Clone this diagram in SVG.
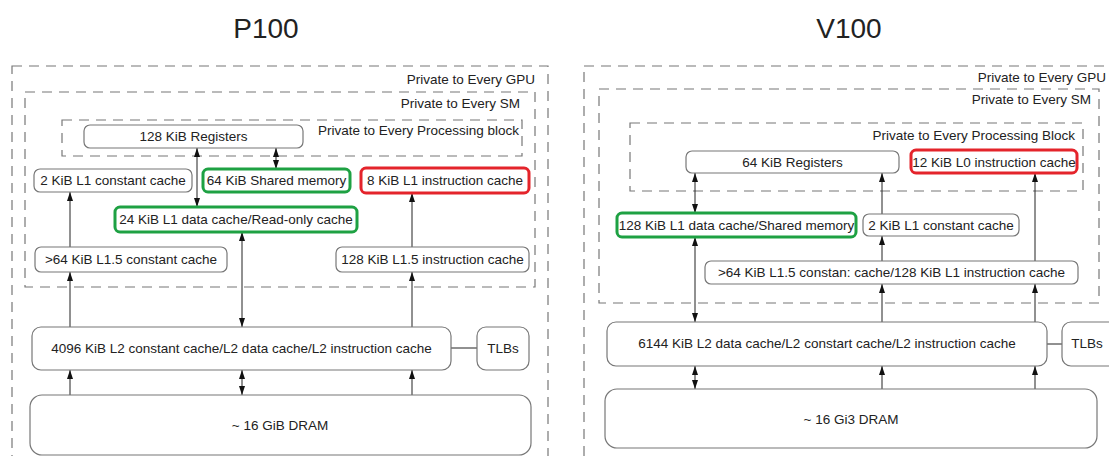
<svg xmlns="http://www.w3.org/2000/svg" width="1109" height="456" viewBox="0 0 1109 456">
<style>
text{font-family:"Liberation Sans",Arial,sans-serif;font-size:13.5px;fill:#222}
.t{text-anchor:middle}
.e{text-anchor:end}
.title{font-size:28px;text-anchor:middle;fill:#222}
.dash{fill:none;stroke:#777;stroke-width:1.2;stroke-dasharray:10 7}
.box{fill:#fff;stroke:#777;stroke-width:1.2}
.green{fill:#fff;stroke:#1ea143;stroke-width:3}
.red{fill:#fff;stroke:#e4242b;stroke-width:3}
.c path{fill:none;stroke:#222;stroke-width:1}
</style>
<defs>
<marker id="ah" viewBox="0 0 9 6" refX="9" refY="3" markerWidth="9" markerHeight="6" markerUnits="userSpaceOnUse" orient="auto-start-reverse">
<path d="M0,0 L9,3 L0,6 z" fill="#111"/>
</marker>
</defs>
<rect width="1109" height="456" fill="#fff"/>

<text class="title" x="266" y="38">P100</text>
<text class="title" x="849" y="38">V100</text>

<!-- P100 regions -->
<g id="p100-gpu"><rect class="dash" x="12" y="66" width="536" height="420"/><text class="e" x="535" y="84">Private to Every GPU</text></g>
<g id="p100-sm"><rect class="dash" x="25" y="92" width="510" height="195"/><text class="e" x="520" y="108">Private to Every SM</text></g>
<g id="p100-pb"><rect class="dash" x="62" y="120" width="460" height="36"/><text class="e" x="519" y="135">Private to Every Processing block</text></g>

<!-- V100 regions -->
<g id="v100-gpu"><rect class="dash" x="584" y="66" width="540" height="420"/><text class="e" x="1106" y="82">Private to Every GPU</text></g>
<g id="v100-sm"><rect class="dash" x="599" y="89" width="500" height="214"/><text class="e" x="1091" y="104">Private to Every SM</text></g>
<g id="v100-pb"><rect class="dash" x="630" y="123" width="453" height="68"/><text class="e" x="1075" y="140">Private to Every Processing Block</text></g>

<!-- connectors -->
<g id="connectors" class="c">
<path d="M197,148 V207" marker-start="url(#ah)" marker-end="url(#ah)"/>
<path d="M276,148 V169" marker-start="url(#ah)" marker-end="url(#ah)"/>
<path d="M242,232 V327" marker-start="url(#ah)" marker-end="url(#ah)"/>
<path d="M242,370 V395" marker-start="url(#ah)" marker-end="url(#ah)"/>
<path d="M70,247 V192" marker-end="url(#ah)"/>
<path d="M70,327 V272" marker-end="url(#ah)"/>
<path d="M70,395 V370" marker-end="url(#ah)"/>
<path d="M412,247 V193" marker-end="url(#ah)"/>
<path d="M412,327 V272" marker-end="url(#ah)"/>
<path d="M412,395 V370" marker-end="url(#ah)"/>
<path d="M451,348 H477"/>

<path d="M695,173 V213" marker-start="url(#ah)" marker-end="url(#ah)"/>
<path d="M695,237 V322" marker-start="url(#ah)" marker-end="url(#ah)"/>
<path d="M695,366 V389" marker-start="url(#ah)" marker-end="url(#ah)"/>
<path d="M882,214 V173" marker-end="url(#ah)"/>
<path d="M882,261 V236" marker-end="url(#ah)"/>
<path d="M882,322 V284" marker-end="url(#ah)"/>
<path d="M882,389 V366" marker-end="url(#ah)"/>
<path d="M1035,261 V173" marker-end="url(#ah)"/>
<path d="M1035,322 V284" marker-end="url(#ah)"/>
<path d="M1035,389 V366" marker-end="url(#ah)"/>
<path d="M1047,344 H1062"/>
</g>

<!-- P100 nodes -->
<g id="p-reg"><rect class="box" x="84" y="125" width="219" height="23" rx="6"/><text class="t" x="193.5" y="141">128 KiB Registers</text></g>
<g id="p-l1c"><rect class="box" x="34" y="169" width="158" height="23" rx="6"/><text class="t" x="113" y="185">2 KiB L1 constant cache</text></g>
<g id="p-shm"><rect class="green" x="203" y="169" width="147" height="23" rx="5"/><text class="t" x="276.5" y="185">64 KiB Shared memory</text></g>
<g id="p-l1i"><rect class="red" x="361" y="168" width="168" height="25" rx="5"/><text class="t" x="445" y="185">8 KiB L1 instruction cache</text></g>
<g id="p-l1d"><rect class="green" x="115" y="207" width="242" height="25" rx="5"/><text class="t" x="236" y="224">24 KiB L1 data cache/Read-only cache</text></g>
<g id="p-l15c"><rect class="box" x="35" y="247" width="192" height="25" rx="6"/><text class="t" x="131" y="264">&gt;64 KiB L1.5 constant cache</text></g>
<g id="p-l15i"><rect class="box" x="336" y="247" width="193" height="25" rx="6"/><text class="t" x="432.5" y="264">128 KiB L1.5 instruction cache</text></g>
<g id="p-l2"><rect class="box" x="32" y="327" width="419" height="43" rx="9"/><text class="t" x="241.5" y="353">4096 KiB L2 constant cache/L2 data cache/L2 instruction cache</text></g>
<g id="p-tlb"><rect class="box" x="477" y="327" width="52" height="43" rx="9"/><text class="t" x="503" y="353">TLBs</text></g>
<g id="p-dram"><rect class="box" x="30" y="395" width="501" height="60" rx="12"/><text class="t" x="280" y="430">~ 16 GiB DRAM</text></g>

<!-- V100 nodes -->
<g id="v-reg"><rect class="box" x="686" y="151" width="213" height="22" rx="6"/><text class="t" x="792.5" y="167">64 KiB Registers</text></g>
<g id="v-l0i"><rect class="red" x="911" y="150" width="166" height="23" rx="5"/><text class="t" x="994" y="166.5">12 KiB L0 instruction cache</text></g>
<g id="v-l1d"><rect class="green" x="617" y="213" width="239" height="24" rx="5"/><text class="t" x="736.5" y="230">128 KiB L1 data cache/Shared memory</text></g>
<g id="v-l1c"><rect class="box" x="863" y="214" width="156" height="22" rx="6"/><text class="t" x="941" y="230">2 KiB L1 constant cache</text></g>
<g id="v-l15"><rect class="box" x="705" y="261" width="373" height="23" rx="6"/><text class="t" x="891.5" y="277">&gt;64 KiB L1.5 constan: cache/128 KiB L1 instruction cache</text></g>
<g id="v-l2"><rect class="box" x="607" y="322" width="440" height="44" rx="9"/><text class="t" x="827" y="348">6144 KiB L2 data cache/L2 constart cache/L2 instruction cache</text></g>
<g id="v-tlb"><rect class="box" x="1062" y="322" width="60" height="44" rx="9"/><text class="t" x="1087" y="348">TLBs</text></g>
<g id="v-dram"><rect class="box" x="605" y="389" width="492" height="59" rx="12"/><text class="t" x="851" y="424">~ 16 Gi3 DRAM</text></g>
</svg>
